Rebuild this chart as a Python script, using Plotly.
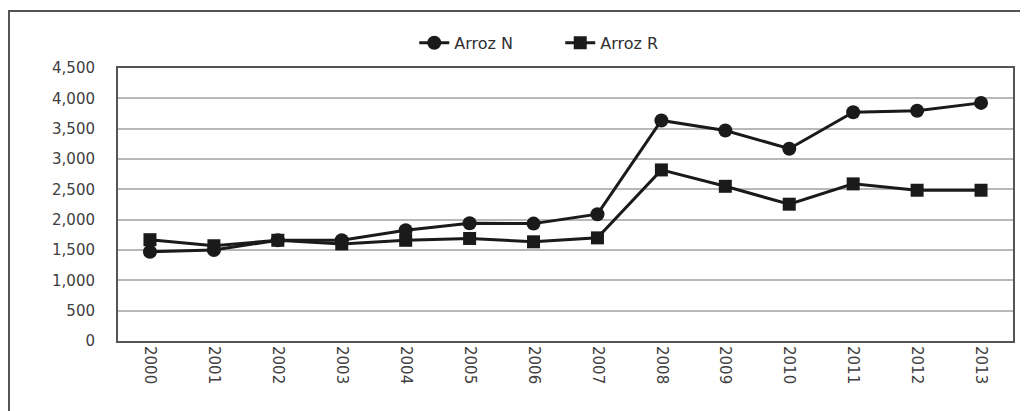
import plotly.graph_objects as go

years = [str(y) for y in range(2000, 2014)]
arroz_n = [1470, 1500, 1660, 1660, 1825, 1940, 1935, 2090, 3635, 3470, 3170, 3770, 3795, 3925]
arroz_r = [1670, 1570, 1660, 1600, 1660, 1690, 1635, 1700, 2820, 2550, 2255, 2590, 2485, 2485]
y_ticks = list(range(0, 4501, 500))
y_labels = [f"{v:,}" for v in y_ticks]

FONT = "DejaVu Sans"

fig = go.Figure()
fig.add_trace(go.Scatter(x=years, y=arroz_n, name="Arroz N", mode="lines+markers",
                         line=dict(color="#1a1a1a", width=3),
                         marker=dict(symbol="circle", size=14, color="#1a1a1a")))
fig.add_trace(go.Scatter(x=years, y=arroz_r, name="Arroz R", mode="lines+markers",
                         line=dict(color="#1a1a1a", width=3),
                         marker=dict(symbol="square", size=13, color="#1a1a1a")))

fig.update_layout(
    width=1020, height=403,
    margin=dict(l=110, r=15, t=60, b=70, autoexpand=False),
    paper_bgcolor="white", plot_bgcolor="white",
    font=dict(family=FONT, size=15, color="#404040"),
    showlegend=True,
    legend=dict(orientation="h", x=0.331, xanchor="left", y=1.092, yanchor="middle",
                font=dict(family=FONT, size=16, color="#303030"),
                entrywidth=101, entrywidthmode="pixels", tracegroupgap=0,
                bgcolor="rgba(0,0,0,0)"),
    xaxis=dict(type="category", tickangle=90, showgrid=False, range=[-0.5, 13.5],
               showline=True, linecolor="#555555", linewidth=2, mirror=True,
               ticks="", tickfont=dict(size=15, color="#404040")),
    yaxis=dict(range=[0, 4500], tickvals=y_ticks, ticktext=y_labels,
               showgrid=True, gridcolor="#b8b8b8", gridwidth=2,
               showline=True, linecolor="#555555", linewidth=2, mirror=True,
               ticks="", ticklabelstandoff=18,
               tickfont=dict(size=15, color="#404040"), zeroline=False),
)

fig.add_shape(type="rect", xref="paper", yref="paper",
              x0=-0.1218, x1=1.05, y0=-0.5, y1=1.2088,
              line=dict(color="#555555", width=2), layer="below")

fig.write_html("out.html")
